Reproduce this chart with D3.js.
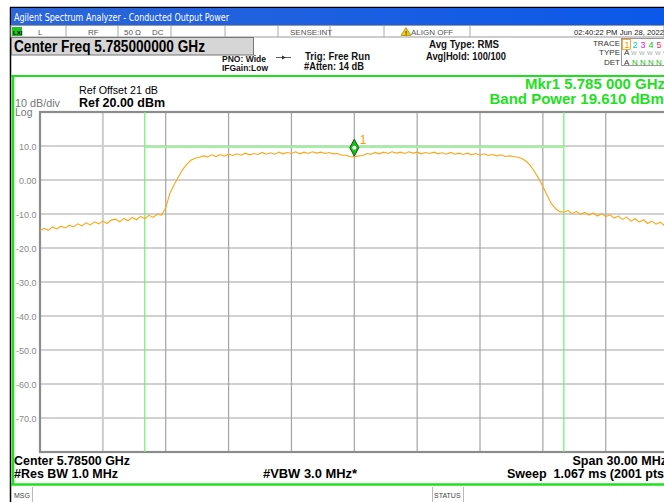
<!DOCTYPE html>
<html>
<head>
<meta charset="utf-8">
<script src="https://cdn.jsdelivr.net/npm/d3@7"></script>
<style>
  body { margin: 0; background: #fff; }
  svg { display: block; font-family: "Liberation Sans", Arial, sans-serif; }
</style>
</head>
<body>
<svg id="chart"></svg>
<script>
// sweep settings (MHz offset from centre) and reference levels
const startMHz = -15;
const stopMHz = 15;
const refLevel = 20;
const bottomLevel = -80;
const yTicks = [10, 0, -10, -20, -30, -40, -50, -60, -70];
const yTickLabels = ["10.0", "0.00", "-10.0", "-20.0", "-30.0", "-40.0", "-50.0", "-60.0", "-70.0"];
const xGridMHz = [-12, -9, -6, -3, 0, 3, 6, 9, 12];
const bandEdgesMHz = [-10, 10];
const bandLineLevel = 9.8;
const markerMHz = 0;

// trace, one value every 0.2 MHz from -15 to +15 MHz (dBm)
const traceLevels = [
  -14.9, -14.2, -14.8, -13.8, -14.4, -13.6, -14.1, -13.3, -13.8, -12.9,
  -13.5, -12.6, -13.2, -12.3, -12.9, -12.1, -12.8, -11.8, -11.5, -12.3,
  -11.3, -12.0, -11.0, -11.7, -10.7, -11.4, -10.4, -11.0, -10.0, -10.3,
  -8.2, -3.9, -1.4, 0.8, 3.0, 4.6, 5.8, 6.4, 6.7, 7.1,
  6.8, 7.4, 6.9, 7.5, 7.0, 7.6,
  7.2, 7.7, 7.3, 7.9, 7.4, 7.8, 7.5, 8.1, 7.6, 8.0,
  7.6, 8.2, 7.7, 8.1, 7.8, 8.3, 7.7, 8.2, 7.8, 8.3,
  7.9, 8.2, 7.8, 8.1, 7.7, 7.8, 7.3, 7.3, 6.9, 6.8,
  7.1, 7.2, 7.8, 7.6, 8.1, 7.7, 8.2, 7.8, 8.3, 7.9,
  8.2, 7.8, 8.3, 7.9, 8.2, 7.7, 8.1, 7.8, 8.2, 7.7,
  8.0, 7.6, 8.1, 7.6, 7.9, 7.5, 7.9, 7.4, 7.8, 7.3,
  7.7, 7.2, 7.5, 7.1, 7.4, 6.9, 7.1, 6.9, 6.7,
  6.3, 5.5, 4.3, 2.5, 0.4, -1.9, -4.5, -6.9, -8.4, -9.3,
  -9.4, -9.0, -9.9, -9.2, -10.1, -9.5, -10.3, -9.7, -10.6, -9.9,
  -10.8, -10.2, -11.2, -10.6, -11.6, -10.9, -12.1, -11.4, -12.4, -11.7,
  -12.8, -12.1, -13.0, -12.4, -13.4, -12.9
];

const W = 664, H = 502;
const svg = d3.select("#chart").attr("width", W).attr("height", H);

const plot = {left: 40, top: 112, right: 668.6, bottom: 452};
const x = d3.scaleLinear().domain([startMHz, stopMHz]).range([plot.left, plot.right]);
const y = d3.scaleLinear().domain([bottomLevel, refLevel]).range([plot.bottom, plot.top]);
const green = "#1ee01e";

// ---------- window chrome ----------
svg.append("rect").attr("x", 0).attr("y", 0).attr("width", W).attr("height", H).attr("fill", "#fff");
svg.append("line").attr("x1", 10).attr("x2", W).attr("y1", 7.5).attr("y2", 7.5).attr("stroke", "#000").attr("stroke-width", 1.5);
svg.append("line").attr("x1", 10.5).attr("x2", 10.5).attr("y1", 7).attr("y2", H).attr("stroke", "#000").attr("stroke-width", 1.5);

let grad = svg.append("defs").append("linearGradient").attr("id", "titleGrad");
grad.append("stop").attr("offset", "0%").attr("stop-color", "#2c66d8");
grad.append("stop").attr("offset", "100%").attr("stop-color", "#0b58ea");
svg.append("rect").attr("x", 11).attr("y", 8).attr("width", W - 11).attr("height", 17).attr("fill", "url(#titleGrad)");
svg.append("text").attr("x", 14).attr("y", 21)
  .attr("font-family", "DejaVu Sans, sans-serif").attr("font-size", 10).attr("fill", "#fff")
  .attr("textLength", 215).attr("lengthAdjust", "spacingAndGlyphs")
  .text("Agilent Spectrum Analyzer - Conducted Output Power");

// status row
let status = svg.append("g").attr("font-size", 8).attr("fill", "#555");
status.append("rect").attr("x", 11).attr("y", 25.5).attr("width", W - 11).attr("height", 11.5)
  .attr("fill", "#fff").attr("stroke", "#999").attr("stroke-width", 1);
[66, 118, 171, 225, 278, 330, 384, 470].forEach(sx => {
  status.append("line").attr("x1", sx).attr("x2", sx).attr("y1", 26).attr("y2", 37).attr("stroke", "#aaa");
});
status.append("rect").attr("x", 12).attr("y", 27).attr("width", 10).attr("height", 9).attr("fill", "#22c422");
status.append("text").attr("x", 13).attr("y", 34.5).attr("font-size", 6).attr("font-weight", "bold").attr("fill", "#000").text("LXI");
status.append("text").attr("x", 38).attr("y", 34.5).text("L");
status.append("text").attr("x", 88).attr("y", 34.5).text("RF");
status.append("text").attr("x", 124).attr("y", 34.5).text("50 Ω");
status.append("text").attr("x", 152).attr("y", 34.5).text("DC");
status.append("text").attr("x", 290).attr("y", 34.5).text("SENSE:INT");
status.append("path").attr("d", "M406,27.5 L411,35.5 L401,35.5 Z").attr("fill", "#f0d000").attr("stroke", "#8a7000").attr("stroke-width", 0.6);
status.append("text").attr("x", 406).attr("y", 35).attr("text-anchor", "middle").attr("font-size", 6).attr("font-weight", "bold").attr("fill", "#000").text("!");
status.append("text").attr("x", 411).attr("y", 34.5).text("ALIGN OFF");
status.append("text").attr("x", 664).attr("y", 34.5).attr("text-anchor", "end").attr("fill", "#222")
  .attr("textLength", 90).attr("lengthAdjust", "spacingAndGlyphs").text("02:40:22 PM Jun 28, 2022");

// centre freq box and settings
svg.append("rect").attr("x", 11.5).attr("y", 37.5).attr("width", 242).attr("height", 17.5)
  .attr("fill", "#d6d6d6").attr("stroke", "#777");
svg.append("text").attr("x", 14).attr("y", 52).attr("font-size", 16).attr("font-weight", "bold")
  .attr("textLength", 191).attr("lengthAdjust", "spacingAndGlyphs").text("Center Freq 5.785000000 GHz");

let info = svg.append("g").attr("font-weight", "bold").attr("fill", "#111");
info.append("text").attr("x", 222).attr("y", 61.5).attr("font-size", 9)
  .attr("textLength", 44).attr("lengthAdjust", "spacingAndGlyphs").text("PNO: Wide");
info.append("text").attr("x", 222).attr("y", 71).attr("font-size", 9)
  .attr("textLength", 46).attr("lengthAdjust", "spacingAndGlyphs").text("IFGain:Low");
info.append("line").attr("x1", 276).attr("x2", 291).attr("y1", 57.5).attr("y2", 57.5).attr("stroke", "#333").attr("stroke-width", 0.8);
info.append("path").attr("d", "M282,55.5 L286,57.5 L282,59.5 Z").attr("fill", "#333");
info.append("text").attr("x", 305).attr("y", 60).attr("font-size", 10.5)
  .attr("textLength", 65).attr("lengthAdjust", "spacingAndGlyphs").text("Trig: Free Run");
info.append("text").attr("x", 304).attr("y", 69.5).attr("font-size", 10.5)
  .attr("textLength", 60).attr("lengthAdjust", "spacingAndGlyphs").text("#Atten: 14 dB");
info.append("text").attr("x", 429).attr("y", 47.5).attr("font-size", 10.5)
  .attr("textLength", 70).attr("lengthAdjust", "spacingAndGlyphs").text("Avg Type: RMS");
info.append("text").attr("x", 426).attr("y", 59.5).attr("font-size", 10.5)
  .attr("textLength", 80).attr("lengthAdjust", "spacingAndGlyphs").text("Avg|Hold: 100/100");

// trace legend box
let tr = svg.append("g").attr("font-size", 8);
tr.append("text").attr("x", 620).attr("y", 45.5).attr("text-anchor", "end").attr("fill", "#333").text("TRACE");
tr.append("text").attr("x", 620).attr("y", 55).attr("text-anchor", "end").attr("fill", "#333").text("TYPE");
tr.append("text").attr("x", 620).attr("y", 64.5).attr("text-anchor", "end").attr("fill", "#333").text("DET");
tr.append("rect").attr("x", 621.5).attr("y", 38.5).attr("width", 50).attr("height", 27).attr("fill", "none").attr("stroke", "#999");
tr.append("rect").attr("x", 622.5).attr("y", 39.5).attr("width", 8).attr("height", 10).attr("fill", "none").attr("stroke", "#ff9900").attr("stroke-width", 0.8);
const traceColors = ["#ff9900", "#00c8e8", "#e020e0", "#20c020", "#ff3060", "#9060ff"];
traceColors.forEach((c, i) => {
  tr.append("text").attr("x", 624.5 + i * 8).attr("y", 47.5).attr("font-size", 9).attr("fill", c).text(i + 1);
  if (i > 0) {
    tr.append("text").attr("x", 623 + i * 8).attr("y", 55).attr("font-size", 6).attr("fill", "#aaa").text("W");
    tr.append("text").attr("x", 624 + i * 8).attr("y", 64.5).attr("font-size", 8).attr("fill", "#20c020").text("N");
  }
});
tr.append("text").attr("x", 624).attr("y", 55).attr("fill", "#333").text("A");
tr.append("text").attr("x", 624).attr("y", 64.5).attr("fill", "#333").text("A");

// green display frame
svg.append("line").attr("x1", 11).attr("x2", W).attr("y1", 76).attr("y2", 76).attr("stroke", green).attr("stroke-width", 2);
svg.append("line").attr("x1", 13).attr("x2", 13).attr("y1", 75).attr("y2", 485).attr("stroke", green).attr("stroke-width", 2.5);
svg.append("line").attr("x1", 11).attr("x2", W).attr("y1", 484.5).attr("y2", 484.5).attr("stroke", green).attr("stroke-width", 2.5);

// ---------- annotation text ----------
svg.append("text").attr("x", 79).attr("y", 93.5).attr("font-size", 11)
  .attr("textLength", 79).attr("lengthAdjust", "spacingAndGlyphs").text("Ref Offset 21 dB");
svg.append("text").attr("x", 79).attr("y", 106.5).attr("font-size", 13).attr("font-weight", "bold")
  .attr("textLength", 86).attr("lengthAdjust", "spacingAndGlyphs").text("Ref 20.00 dBm");
svg.append("text").attr("x", 15).attr("y", 107).attr("font-size", 10.5).attr("fill", "#777")
  .attr("textLength", 45).attr("lengthAdjust", "spacingAndGlyphs").text("10 dB/div");
svg.append("text").attr("x", 15).attr("y", 115.5).attr("font-size", 10.5).attr("fill", "#777").text("Log");

svg.append("text").attr("x", 525).attr("y", 89).attr("font-size", 15).attr("font-weight", "bold").attr("fill", green)
  .text("Mkr1 5.785 000 GHz");
svg.append("text").attr("x", 489.5).attr("y", 104).attr("font-size", 15).attr("font-weight", "bold").attr("fill", green)
  .text("Band Power 19.610 dBm");

// ---------- plot ----------
let grid = svg.append("g");
grid.selectAll(".hg")
  .data(yTicks)
  .join("line")
  .attr("x1", plot.left).attr("x2", plot.right)
  .attr("y1", d => y(d)).attr("y2", d => y(d))
  .attr("stroke", d => (d == -30 || d == -60) ? "#d0d0d0" : "#a4a4a4")
  .attr("stroke-width", d => (d == -30 || d == -60) ? 2 : 1.2);
grid.selectAll(".vg")
  .data(xGridMHz)
  .join("line")
  .attr("x1", d => x(d)).attr("x2", d => x(d))
  .attr("y1", plot.top).attr("y2", plot.bottom)
  .attr("stroke", d => d == -12 ? "#cccccc" : "#a4a4a4")
  .attr("stroke-width", d => d == -12 ? 2 : 1.2);

svg.append("rect")
  .attr("x", plot.left).attr("y", plot.top)
  .attr("width", plot.right - plot.left).attr("height", plot.bottom - plot.top)
  .attr("fill", "none").attr("stroke", "#8c8c8c").attr("stroke-width", 2.2);

svg.append("g").attr("font-size", 9).attr("fill", "#8a8a8a")
  .selectAll("text")
  .data(yTicks)
  .join("text")
  .attr("x", 36.5)
  .attr("y", d => y(d) + 3.5)
  .attr("text-anchor", "end")
  .text((d, i) => yTickLabels[i]);

// integration band
svg.selectAll(".band")
  .data(bandEdgesMHz)
  .join("line")
  .attr("x1", d => x(d)).attr("x2", d => x(d))
  .attr("y1", plot.top).attr("y2", plot.bottom)
  .attr("stroke", "#6cf26c").attr("stroke-width", 1.2);
svg.append("line")
  .attr("x1", x(bandEdgesMHz[0])).attr("x2", x(bandEdgesMHz[1]))
  .attr("y1", y(bandLineLevel)).attr("y2", y(bandLineLevel))
  .attr("stroke", "#a6eea6").attr("stroke-width", 2.5);

// trace
const stepMHz = (stopMHz - startMHz) / (traceLevels.length - 1);
const line = d3.line()
  .x((d, i) => x(startMHz + i * stepMHz))
  .y(d => y(d));
svg.append("clipPath").attr("id", "plotClip")
  .append("rect").attr("x", plot.left).attr("y", plot.top)
  .attr("width", plot.right - plot.left).attr("height", plot.bottom - plot.top);
svg.append("path")
  .datum(traceLevels)
  .attr("clip-path", "url(#plotClip)")
  .attr("d", line)
  .attr("fill", "none")
  .attr("stroke", "#ffa514")
  .attr("stroke-width", 1.1)
  .attr("stroke-linejoin", "miter");

// marker 1
let mx = x(markerMHz), my = y(bandLineLevel) + 1;
svg.append("path")
  .attr("d", `M${mx},${my - 8.5} L${mx + 4.5},${my} L${mx},${my + 8.5} L${mx - 4.5},${my} Z`)
  .attr("fill", "#18c018").attr("stroke", "#0a5a0a").attr("stroke-width", 1);
svg.append("circle").attr("cx", mx).attr("cy", my).attr("r", 2).attr("fill", "#fff");
svg.append("text").attr("x", mx + 5.5).attr("y", my - 4).attr("font-size", 12).attr("fill", "#ff9900").text("1");

// ---------- bottom annotations ----------
let foot = svg.append("g").attr("font-weight", "bold").attr("font-size", 12.5).attr("fill", "#000");
foot.append("text").attr("x", 14).attr("y", 464.5)
  .attr("textLength", 116).attr("lengthAdjust", "spacingAndGlyphs").text("Center 5.78500 GHz");
foot.append("text").attr("x", 14).attr("y", 477.5)
  .attr("textLength", 104).attr("lengthAdjust", "spacingAndGlyphs").text("#Res BW 1.0 MHz");
foot.append("text").attr("x", 263).attr("y", 477.5)
  .attr("textLength", 94).attr("lengthAdjust", "spacingAndGlyphs").text("#VBW 3.0 MHz*");
foot.append("text").attr("x", 572.5).attr("y", 464.5).text("Span 30.00 MHz");
foot.append("text").attr("x", 507).attr("y", 477.5).attr("xml:space", "preserve").text("Sweep  1.067 ms (2001 pts)");

// message bar
let msg = svg.append("g").attr("font-size", 7).attr("fill", "#444");
msg.append("line").attr("x1", 32.5).attr("x2", 32.5).attr("y1", 487).attr("y2", H).attr("stroke", "#bbb");
msg.append("line").attr("x1", 432.5).attr("x2", 432.5).attr("y1", 487).attr("y2", H).attr("stroke", "#bbb");
msg.append("line").attr("x1", 463.5).attr("x2", 463.5).attr("y1", 487).attr("y2", H).attr("stroke", "#bbb");
msg.append("text").attr("x", 14).attr("y", 497.5).text("MSG");
msg.append("text").attr("x", 434).attr("y", 497.5).text("STATUS");
</script>
</body>
</html>
